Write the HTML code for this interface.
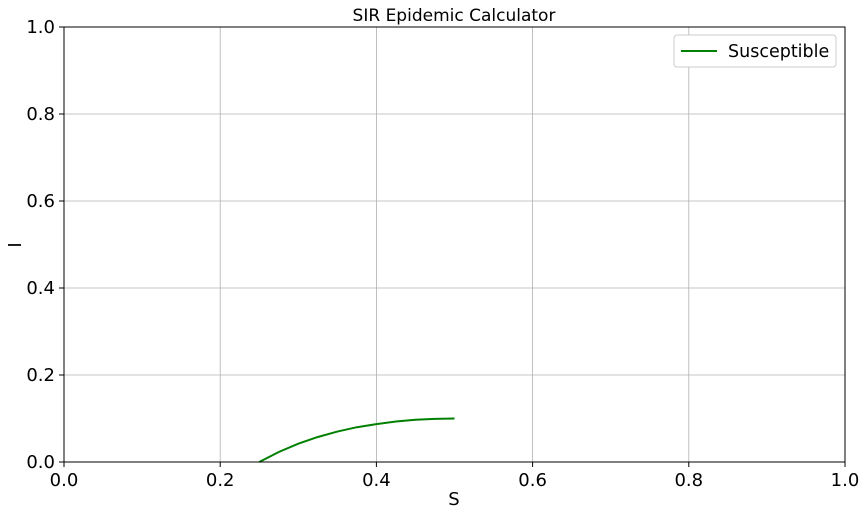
<!DOCTYPE html>
<html><head><meta charset="utf-8"><style>
body{margin:0;background:#fff;}
svg{display:block;font-family:"DejaVu Sans","Liberation Sans",sans-serif;}
</style></head><body>
<svg id="chart" width="865" height="516">
<rect width="865" height="516" fill="#fff"/>
<g id="grid"></g>
<g id="series"></g>
<rect x="64" y="27" width="781" height="435" fill="none" stroke="#000" stroke-width="1"/>
<g id="ticks"></g>
<text x="454" y="21" font-size="17" text-anchor="middle">SIR Epidemic Calculator</text>
<text x="454" y="505" font-size="18" text-anchor="middle">S</text>
<text x="21" y="245" font-size="18" text-anchor="middle" transform="rotate(-90 21 245)">I</text>
<g>
<rect x="674" y="35" width="162" height="32" rx="3" fill="#fff" stroke="#ccc"/>
<line x1="681" y1="51" x2="717" y2="51" stroke="#008000" stroke-width="2"/>
<text x="728" y="57" font-size="17.5">Susceptible</text>
</g>
</svg>
<script>
const xTicks=[0,0.2,0.4,0.6,0.8,1.0];
const yTicks=[0,0.2,0.4,0.6,0.8,1.0];
const sValues=[0.25,0.275,0.3,0.325,0.35,0.375,0.4,0.425,0.45,0.475,0.5];
const iValues=[0,0.023,0.042,0.0575,0.070,0.080,0.087,0.093,0.097,0.099,0.1];
const X0=64,X1=845,Y0=462,Y1=27;
function xs(v){return X0+(X1-X0)*v;}
function ys(v){return Y0-(Y0-Y1)*v;}
const NS='http://www.w3.org/2000/svg';
const grid=document.getElementById('grid'),ticks=document.getElementById('ticks'),series=document.getElementById('series');
function mk(t,a,p){const e=document.createElementNS(NS,t);for(const k in a)e.setAttribute(k,a[k]);p.appendChild(e);return e;}
xTicks.forEach(v=>{
 const g=mk('line',{x1:xs(v),x2:xs(v),y1:Y1,y2:Y0,stroke:'#b0b0b0','stroke-width':0.8},grid);
 
 
 const t=mk('line',{x1:xs(v),x2:xs(v),y1:Y0,y2:Y0+5,stroke:'#000'},ticks);
 
 
 const l=mk('text',{x:xs(v),y:Y0+24,'font-size':18,'text-anchor':'middle'},ticks);
 l.textContent=v.toFixed(1);
 
 
});
yTicks.forEach(v=>{
 const g=mk('line',{x1:X0,x2:X1,y1:ys(v),y2:ys(v),stroke:'#b0b0b0','stroke-width':0.8},grid);
 
 
 const t=mk('line',{x1:X0-5,x2:X0,y1:ys(v),y2:ys(v),stroke:'#000'},ticks);
 
 
 const l=mk('text',{x:X0-9,y:ys(v)+6,'font-size':18,'text-anchor':'end'},ticks);
 l.textContent=v.toFixed(1);
 
 
});
const pts=sValues.map((s,i)=>xs(s)+','+ys(iValues[i])).join(' ');
const line=mk('polyline',{points:pts,fill:'none',stroke:'#008000','stroke-width':2},series);


</script>
</body></html>
